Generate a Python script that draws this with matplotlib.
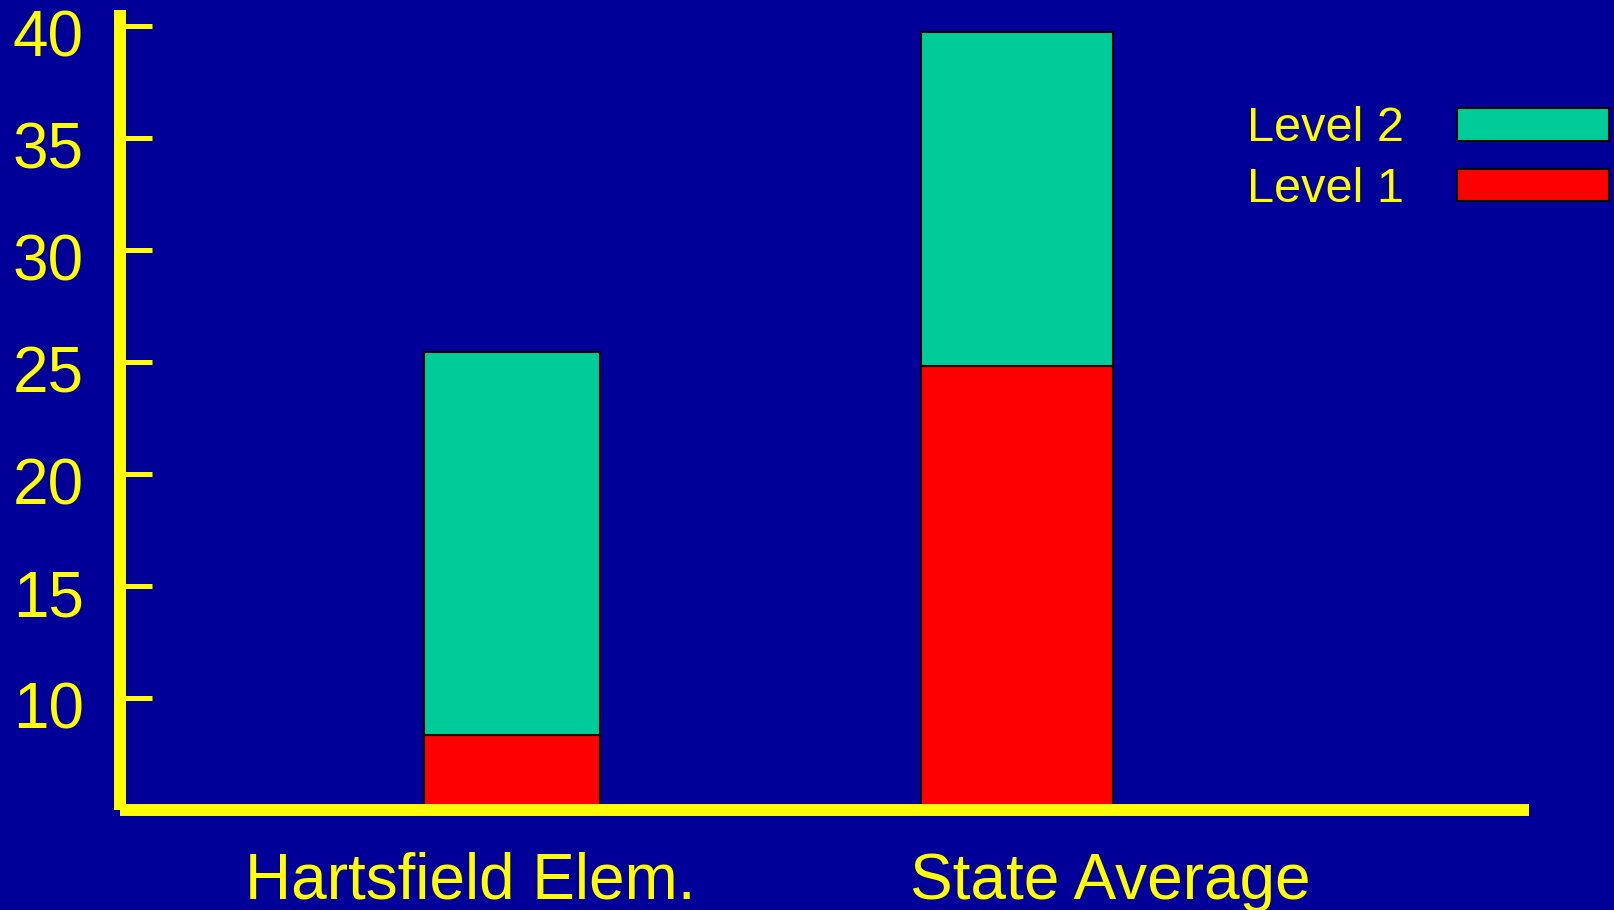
import matplotlib
matplotlib.use("Agg")
import matplotlib.pyplot as plt
import matplotlib.transforms as mtransforms

# stacked share of students per level
schools = ["Hartsfield Elem.", "State Average"]
level1 = [8.35, 24.8]
level2 = [17.1, 14.95]

BG = "#000099"
YEL = "#FFFF00"
GREEN = "#00CC99"
RED = "#FF0000"

plt.rcParams["font.family"] = ["Liberation Sans", "DejaVu Sans"]

fig = plt.figure(figsize=(16.14, 9.10), dpi=100, facecolor=BG)
ax = fig.add_axes([0.0743, 0.1099, 0.8732, 0.8791], facecolor=BG)

pos = [0, 1]
widths = [0.349, 0.380]
ax.bar(pos, level1, width=widths, color=RED, edgecolor="black", lw=1.5,
       label="Level 1")
ax.bar(pos, level2, width=widths, bottom=level1, color=GREEN,
       edgecolor="black", lw=1.5, label="Level 2")

ax.set_ylim(5, 40.71)
ax.set_xlim(-0.776, 2.014)
ax.set_yticks([10, 15, 20, 25, 30, 35, 40])
ax.set_xticks([-0.083, 1.184], schools)

for side in ("top", "right"):
    ax.spines[side].set_visible(False)
for side in ("left", "bottom"):
    ax.spines[side].set_color(YEL)
    ax.spines[side].set_linewidth(8.6)
    ax.spines[side].set_capstyle("butt")

ax.tick_params(axis="y", direction="in", length=23, width=3.6, color=YEL,
               labelcolor=YEL, labelsize=46, pad=26)
ax.tick_params(axis="x", length=0, labelcolor=YEL, labelsize=46, pad=30)

# y labels sit a little below their ticks
shift = mtransforms.ScaledTranslation(0, -5 / 72, fig.dpi_scale_trans)
for lab in ax.get_yticklabels():
    lab.set_transform(lab.get_transform() + shift)

h, l = ax.get_legend_handles_labels()
leg = fig.legend(h[::-1], l[::-1], loc="upper right",
                 bbox_to_anchor=(0.997, 0.883), frameon=False,
                 markerfirst=False, fontsize=35, labelcolor=YEL,
                 handlelength=3.13, handleheight=0.66, handletextpad=1.1,
                 labelspacing=0.32, borderpad=0, borderaxespad=0)

fig.savefig("out.png", dpi=100, facecolor=BG)
